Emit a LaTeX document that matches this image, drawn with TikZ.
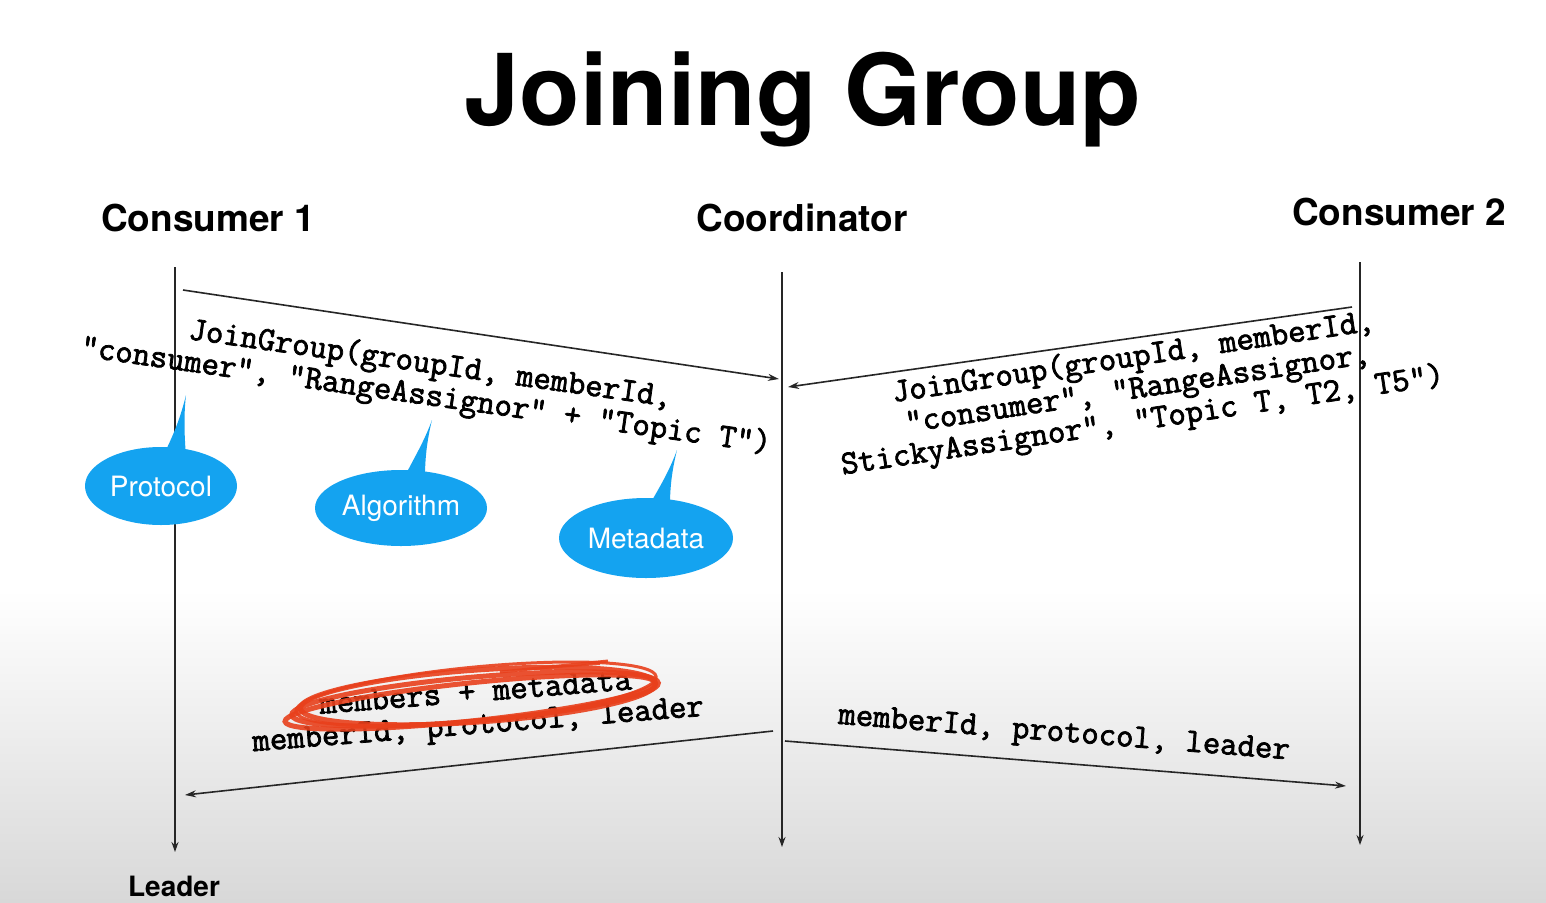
\documentclass[tikz,border=0pt]{standalone}
\usepackage{fontspec}
\setmainfont{TeX Gyre Heros}
\newfontfamily\monofont{Latin Modern Mono}[FakeBold=2.2]
\usetikzlibrary{arrows.meta,shapes.geometric}
\definecolor{bubble}{RGB}{20,163,240}
\definecolor{marker}{RGB}{232,64,28}
\definecolor{floor}{RGB}{216,216,216}

\begin{document}
\begin{tikzpicture}[x=1pt,y=-1pt,
  lifeline/.style={line width=1.4pt, draw=black!85, -{Stealth[length=10pt,width=7pt]}},
  msg/.style={line width=1.6pt, draw=black!85, -{Stealth[length=11pt,width=7pt]}},
  actor/.style={font=\fontsize{37}{40}\selectfont\bfseries, anchor=base, inner sep=0},
  msgtext/.style={font=\monofont\bfseries\fontsize{33.8}{32}\selectfont, align=center, inner sep=0},
  bubbleshape/.style={ellipse, fill=bubble, text=white, inner sep=0, font=\fontsize{28}{30}\selectfont},
  tail/.style={fill=bubble},
  scribble/.style={draw=marker, line width=5pt, opacity=0.9}
]
\useasboundingbox (0,0) rectangle (1546,902);
\fill[white] (0,0) rectangle (1546,902);
\shade[top color=white, bottom color=floor] (0,590) rectangle (1546,902);

% title and participants
\node[font=\fontsize{99}{110}\selectfont\bfseries, anchor=base, inner sep=0] (title) at (803,125) {Joining Group};
\node[actor] (cons1) at (208,231) {Consumer 1};
\node[actor] (coord) at (802,231) {Coordinator};
\node[actor] (cons2) at (1399,225) {Consumer 2};
\node[font=\fontsize{28}{30}\selectfont\bfseries, anchor=base, inner sep=0] (leader) at (174,896) {Leader};

% lifelines
\coordinate (c1top) at (175,267);
\coordinate (c1bot) at (175,852);
\coordinate (cotop) at (782,272);
\coordinate (cobot) at (782,847);
\coordinate (c2top) at (1360,262);
\coordinate (c2bot) at (1360,845);
\draw[lifeline] (c1top) -- (c1bot);
\draw[lifeline] (cotop) -- (cobot);
\draw[lifeline] (c2top) -- (c2bot);

% messages
\coordinate (m1s) at (183,290);
\coordinate (m1e) at (779,379);
\coordinate (m2s) at (1352,307);
\coordinate (m2e) at (788,387);
\coordinate (m3s) at (773,731);
\coordinate (m3e) at (185,795);
\coordinate (m4s) at (785,741);
\coordinate (m4e) at (1346,786);
\draw[msg] (m1s) -- (m1e);
\draw[msg] (m2s) -- (m2e);
\draw[msg] (m3s) -- (m3e);
\draw[msg] (m4s) -- (m4e);

\node[msgtext, rotate=-8] (join1) at (428,381)
  {JoinGroup(groupId, memberId,\\“consumer”, “RangeAssignor” + “Topic T”)};
\node[msgtext, rotate=8.5] (join2) at (1138,390)
  {JoinGroup(groupId, memberId,\\“consumer”, “RangeAssignor,\\StickyAssignor”, “Topic T, T2, T5”)};
\node[msgtext, rotate=4.5] (sync1) at (477,711)
  {members + metadata\\memberId, protocol, leader};
\node[msgtext, rotate=-4.5] (sync2) at (1064,735)
  {memberId, protocol, leader};

% callouts
\fill[tail] (186,395) .. controls (180,420) and (172,438) .. (163,456) -- (186,456) .. controls (184,432) and (184,412) .. (186,395) -- cycle;
\fill[tail] (432,420) .. controls (424,442) and (414,458) .. (405,476) -- (425,476) .. controls (425,455) and (428,436) .. (432,420) -- cycle;
\fill[tail] (677,450) .. controls (669,472) and (659,488) .. (650,504) -- (670,504) .. controls (670,484) and (673,466) .. (677,450) -- cycle;
\node[bubbleshape, minimum width=152, minimum height=78] (proto) at (161,486) {Protocol};
\node[bubbleshape, minimum width=172, minimum height=76] (algo) at (401,508) {Algorithm};
\node[bubbleshape, minimum width=174, minimum height=80] (meta) at (646,538) {Metadata};

% red marker loop around the first line
\draw[scribble, rotate around={5:(475,699)}] (475,699) ellipse [x radius=184, y radius=22];
\draw[scribble, rotate around={4:(478,696)}] (478,696) ellipse [x radius=178, y radius=26];
\draw[scribble, rotate around={6:(470,702)}] (470,702) ellipse [x radius=186, y radius=19];
\draw[scribble, line width=3pt, rotate around={5.5:(476,694)}] (476,694) ellipse [x radius=181, y radius=27];
\draw[scribble, line width=3pt] (500,672) -- (608,661);
\draw[scribble, line width=2pt] (540,668) -- (600,664);
\end{tikzpicture}
\end{document}
